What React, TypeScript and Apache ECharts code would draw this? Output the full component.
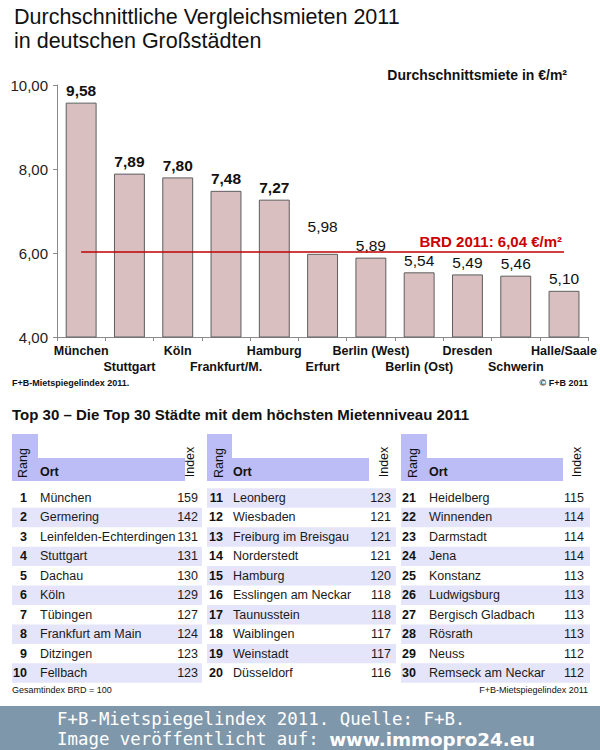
import React, { useEffect, useRef } from "react";
import * as echarts from "echarts";

const categories = ["München", "Stuttgart", "Köln", "Frankfurt/M.", "Hamburg", "Erfurt", "Berlin (West)", "Berlin (Ost)", "Dresden", "Schwerin", "Halle/Saale"];
const rents = [9.58, 7.89, 7.8, 7.48, 7.27, 5.98, 5.89, 5.54, 5.49, 5.46, 5.1];
const brdAverage = 6.04;
const yMin = 4;
const yMax = 10;
const yInterval = 2;

const topCities = [
  "München", "Germering", "Leinfelden-Echterdingen", "Stuttgart", "Dachau", "Köln", "Tübingen", "Frankfurt am Main", "Ditzingen", "Fellbach",
  "Leonberg", "Wiesbaden", "Freiburg im Breisgau", "Norderstedt", "Hamburg", "Esslingen am Neckar", "Taunusstein", "Waiblingen", "Weinstadt", "Düsseldorf",
  "Heidelberg", "Winnenden", "Darmstadt", "Jena", "Konstanz", "Ludwigsburg", "Bergisch Gladbach", "Rösrath", "Neuss", "Remseck am Neckar",
];
const topIndex = [
  159, 142, 131, 131, 130, 129, 127, 124, 123, 123,
  123, 121, 121, 121, 120, 118, 118, 117, 117, 116,
  115, 114, 114, 114, 113, 113, 113, 113, 112, 112,
];

const FONT = "'Liberation Sans', Arial, sans-serif";
const comma = (v: number) => v.toFixed(2).replace(".", ",");

const panels = [
  { x0: 12, x1: 202, rangR: 38, ortR: 185, rankR: 27, nameX: 40, idxR: 198, rangX: 23, idxX: 190, stripeOdd: true },
  { x0: 207, x1: 396, rangR: 232, ortR: 369, rankR: 223, nameX: 233, idxR: 391, rangX: 219, idxX: 384, stripeOdd: false },
  { x0: 401, x1: 590, rangR: 427, ortR: 563, rankR: 416, nameX: 429, idxR: 584, rangX: 413, idxX: 577, stripeOdd: true },
];

function txt(x: number, y: number, text: string, opts: any = {}, extra: any = {}) {
  return {
    type: "text",
    x,
    y,
    silent: true,
    ...extra,
    style: {
      text,
      fontFamily: FONT,
      fontSize: 12,
      fill: "#111",
      align: "left",
      verticalAlign: "middle",
      ...opts,
    },
  };
}

function buildTable() {
  const els: any[] = [];
  const rowY0 = 498;
  const rowH = 19.45;
  panels.forEach((p, pi) => {
    els.push({ type: "rect", shape: { x: p.x0, y: 434, width: p.rangR - p.x0, height: 47 }, style: { fill: "#bcbcf6" }, silent: true });
    els.push({ type: "rect", shape: { x: p.rangR, y: 458, width: p.ortR - p.rangR, height: 23 }, style: { fill: "#bcbcf6" }, silent: true });
    els.push(txt(p.rangX, 463, "Rang", { align: "center", fontSize: 12.5 }, { rotation: Math.PI / 2 }));
    els.push(txt(p.nameX, 472, "Ort", { fontWeight: "bold", fontSize: 12.5 }));
    els.push(txt(p.idxX, 462, "Index", { align: "center", fontSize: 12.5 }, { rotation: Math.PI / 2 }));
    for (let r = 0; r < 10; r++) {
      const k = pi * 10 + r;
      const cy = rowY0 + r * rowH;
      const striped = p.stripeOdd ? r % 2 === 1 : r % 2 === 0;
      if (striped) {
        els.push({ type: "rect", shape: { x: p.x0, y: cy - rowH / 2, width: p.x1 - p.x0, height: rowH }, style: { fill: "#e4e4fa" }, silent: true });
      }
      els.push(txt(p.rankR, cy, String(k + 1), { align: "right", fontWeight: "bold", fontSize: 12.5 }));
      els.push(txt(p.nameX, cy, topCities[k], { fontSize: 12.5, fill: "#1a1a1a" }));
      els.push(txt(p.idxR, cy, String(topIndex[k]), { align: "right", fontSize: 12.5, fill: "#1a1a1a" }));
    }
  });
  return els;
}

export default function App() {
  const ref = useRef<HTMLDivElement>(null);
  useEffect(() => {
    if (!ref.current) return;
    const chart = echarts.init(ref.current, undefined, { renderer: "svg" });
    const graphics: any[] = [
      txt(14, 17, "Durchschnittliche Vergleichsmieten 2011", { fontSize: 21.5 }),
      txt(14, 41, "in deutschen Großstädten", { fontSize: 21.5 }),
      txt(567, 75, "Durchschnittsmiete in €/m²", { fontSize: 14, fontWeight: "bold", align: "right" }),
      txt(12, 383, "F+B-Mietspiegelindex 2011.", { fontSize: 9, fontWeight: "bold" }),
      txt(588, 383, "© F+B 2011", { fontSize: 9, fontWeight: "bold", align: "right" }),
      txt(12, 414, "Top 30 – Die Top 30 Städte mit dem höchsten Mietenniveau 2011", { fontSize: 15, fontWeight: "bold" }),
      ...buildTable(),
      txt(12, 690, "Gesamtindex BRD = 100", { fontSize: 9 }),
      txt(588, 690, "F+B-Mietspiegelindex 2011", { fontSize: 9, align: "right" }),
      { type: "rect", shape: { x: 0, y: 706, width: 600, height: 44 }, style: { fill: "#7f97aa" }, silent: true },
      txt(57, 719, "F+B-Mietspiegelindex 2011. Quelle: F+B.", { fontSize: 17.4, fontFamily: "'DejaVu Sans Mono', monospace", fill: "#ffffff" }),
      {
        type: "text",
        x: 57,
        y: 739,
        silent: true,
        style: {
          text: "{a|Image veröffentlicht auf: }{b|www.immopro24.eu}",
          verticalAlign: "middle",
          rich: {
            a: { fontSize: 17.4, fontFamily: "'DejaVu Sans Mono', monospace", fill: "#ffffff", color: "#ffffff" },
            b: { fontSize: 18.3, fontFamily: "'DejaVu Sans', Verdana, sans-serif", fontWeight: "bold", fill: "#ffffff", color: "#ffffff" },
          },
        },
      },
    ];

    chart.setOption({
      animation: false,
      backgroundColor: "#ffffff",
      grid: { left: 57, right: 11, top: 85, bottom: 413, containLabel: false },
      xAxis: {
        type: "category",
        data: categories,
        axisLine: { lineStyle: { color: "#8a8a8a", width: 1 } },
        axisTick: { show: true, length: 4, lineStyle: { color: "#8a8a8a" } },
        axisLabel: {
          interval: 0,
          margin: 6,
          fontFamily: FONT,
          fontSize: 12.5,
          fontWeight: "bold",
          color: "#111",
          lineHeight: 16,
          formatter: (v: string, i: number) => (i % 2 === 1 ? "\n" + v : v),
        },
      },
      yAxis: {
        type: "value",
        min: yMin,
        max: yMax,
        interval: yInterval,
        splitLine: { show: false },
        axisLine: { show: true, lineStyle: { color: "#8a8a8a", width: 1 } },
        axisTick: { show: true, length: 4, lineStyle: { color: "#8a8a8a" } },
        axisLabel: { margin: 9, fontFamily: FONT, fontSize: 15, color: "#222", formatter: (v: number) => comma(v) },
      },
      series: [
        {
          type: "bar",
          barWidth: "64%",
          data: rents.map((v, i) => ({
            value: v,
            label: {
              fontWeight: i < 5 ? "bold" : "normal",
              offset: i === 5 ? [0, -15] : [0, 0],
            },
          })),
          itemStyle: { color: "#d9bfbf", borderColor: "#5e5e5e", borderWidth: 1 },
          label: {
            show: true,
            position: "top",
            distance: 4,
            fontFamily: FONT,
            fontSize: 15.5,
            color: "#111",
            formatter: (p: any) => comma(p.value),
          },
          markLine: {
            silent: true,
            symbol: "none",
            lineStyle: { color: "#c00000", width: 1.5, type: "solid" },
            label: {
              show: true,
              position: "insideEndTop",
              distance: 2,
              fontFamily: FONT,
              fontSize: 15,
              fontWeight: "bold",
              color: "#cc0000",
              formatter: "BRD 2011: " + comma(brdAverage) + " €/m²",
            },
            data: [[{ coord: [0, brdAverage] }, { coord: [categories.length - 1, brdAverage] }]],
          },
        },
      ],
      graphic: graphics,
    });
    return () => chart.dispose();
  }, []);
  return <div ref={ref} style={{ position: "absolute", left: 0, top: 0, width: 600, height: 750, background: "#fff" }} />;
}
